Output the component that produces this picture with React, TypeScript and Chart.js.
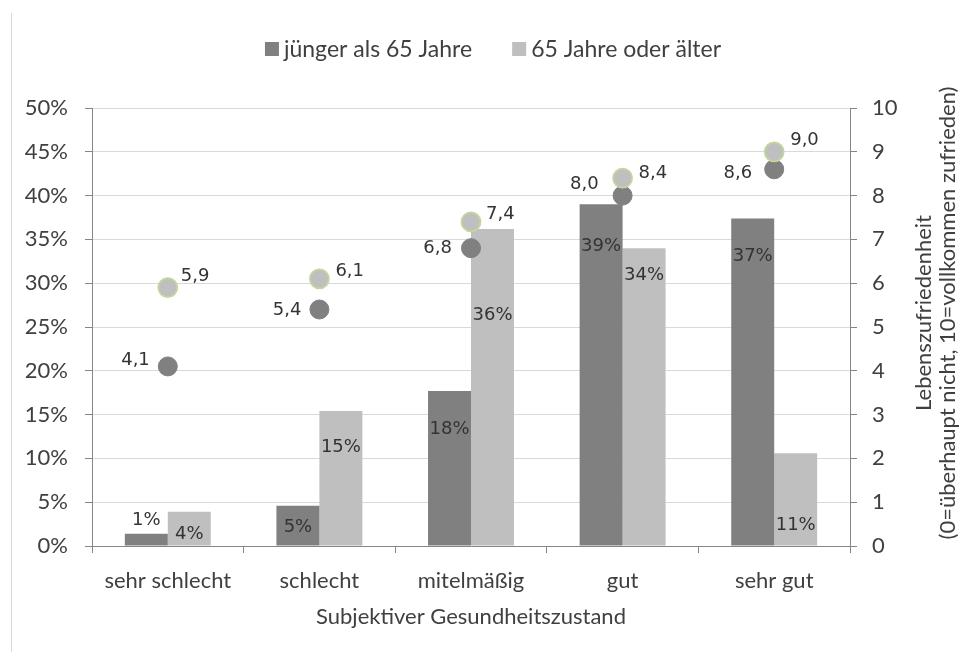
import React, { useEffect, useRef } from "react";
import { Chart, registerables } from "chart.js";

Chart.register(...registerables);

// ---- data ----
const categories = ["sehr schlecht", "schlecht", "mitelmäßig", "gut", "sehr gut"];
const seriesNames = ["jünger als 65 Jahre", "65 Jahre oder älter"];
const sharesYounger = [1.4, 4.6, 17.7, 39.0, 37.4];
const sharesOlder = [3.9, 15.4, 36.2, 34.0, 10.6];
const satisfactionYounger = [4.1, 5.4, 6.8, 8.0, 8.6];
const satisfactionOlder = [5.9, 6.1, 7.4, 8.4, 9.0];
const xTitle = "Subjektiver Gesundheitszustand";
const rightTitle = ["Lebenszufriedenheit", "(0=überhaupt nicht, 10=vollkommen zufrieden)"];

// ---- style ----
const DARK = "#808080";
const LIGHT = "#bfbfbf";
const TEXT = "#404040";
const AXIS = "#868686";
const GRID = "#d9d9d9";
const FONT = "Lato";
const LABEL_FONT = '18px "DejaVu Sans"';
// label nudges (pixels, relative to the mark)
const barLabelDy = [
  [-13, 22, 38, 42, 38],
  [22, 36, 86, 27, 72],
];
const dotLabelDx = [
  [-18, -18, -19, -24, -22],
  [13, 16, 15, 16, 16],
];
const dotLabelDy = [
  [-6, 1, 0, -11, 4],
  [-11, -7, -8, -5, -11],
];

const labelsPlugin = {
  id: "valueLabels",
  afterDatasetsDraw(chart: any) {
    const ctx = chart.ctx;
    ctx.save();
    ctx.font = LABEL_FONT;
    ctx.fillStyle = "#333333";
    ctx.textBaseline = "middle";
    [0, 1].forEach((di) => {
      const meta = chart.getDatasetMeta(di);
      meta.data.forEach((el: any, i: number) => {
        const v = chart.data.datasets[di].data[i] as number;
        ctx.textAlign = "center";
        ctx.fillText(Math.round(v) + "%", el.x, el.y + barLabelDy[di][i]);
      });
    });
    [2, 3].forEach((di, k) => {
      const meta = chart.getDatasetMeta(di);
      meta.data.forEach((el: any, i: number) => {
        const v = chart.data.datasets[di].data[i] as number;
        ctx.textAlign = k === 0 ? "right" : "left";
        ctx.fillText(v.toFixed(1).replace(".", ","), el.x + dotLabelDx[k][i], el.y + dotLabelDy[k][i]);
      });
    });
    ctx.restore();
  },
};

const decorPlugin = {
  id: "decor",
  afterDraw(chart: any) {
    const ctx = chart.ctx;
    const area = chart.chartArea;
    ctx.save();
    // left frame line
    ctx.strokeStyle = GRID;
    ctx.lineWidth = 1;
    ctx.beginPath();
    ctx.moveTo(11.5, 13);
    ctx.lineTo(11.5, chart.height);
    ctx.stroke();

    // legend
    ctx.font = `23px ${FONT}`;
    ctx.textBaseline = "middle";
    ctx.textAlign = "left";
    const box = 14;
    const gap = 5;
    const itemGap = 40;
    const w1 = ctx.measureText(seriesNames[0]).width;
    const w2 = ctx.measureText(seriesNames[1]).width;
    const total = box + gap + w1 + itemGap + box + gap + w2;
    let x = (area.left + area.right) / 2 - total / 2 + 22;
    const y = 50;
    const colors = [DARK, LIGHT];
    [w1, w2].forEach((w, i) => {
      ctx.fillStyle = colors[i];
      ctx.fillRect(x, y - box / 2 - 1, box, box);
      ctx.fillStyle = TEXT;
      ctx.fillText(seriesNames[i], x + box + gap, y);
      x += box + gap + w + itemGap;
    });

    // right axis title, rotated
    const cy = 313;
    ctx.font = `22px ${FONT}`;
    ctx.textAlign = "center";
    ctx.fillStyle = TEXT;
    rightTitle.forEach((line, i) => {
      ctx.save();
      ctx.translate(area.right + 74 + i * 24, cy);
      ctx.rotate(-Math.PI / 2);
      ctx.fillText(line, 0, 0);
      ctx.restore();
    });
    ctx.restore();
  },
};

export default function App() {
  const ref = useRef<HTMLCanvasElement | null>(null);
  useEffect(() => {
    if (!ref.current) return;
    const chart = new Chart(ref.current, {
      type: "bar",
      data: {
        labels: categories,
        datasets: [
          {
            type: "bar",
            label: seriesNames[0],
            data: sharesYounger,
            backgroundColor: DARK,
            yAxisID: "y",
            order: 10,
            categoryPercentage: 0.567,
            barPercentage: 1,
          },
          {
            type: "bar",
            label: seriesNames[1],
            data: sharesOlder,
            backgroundColor: LIGHT,
            yAxisID: "y",
            order: 11,
            categoryPercentage: 0.567,
            barPercentage: 1,
          },
          {
            type: "line",
            label: "Lebenszufriedenheit " + seriesNames[0],
            data: satisfactionYounger,
            showLine: false,
            yAxisID: "y1",
            order: 2,
            pointRadius: 9.5,
            pointHoverRadius: 9.5,
            pointBackgroundColor: DARK,
            pointBorderColor: DARK,
            pointBorderWidth: 1,
          },
          {
            type: "line",
            label: "Lebenszufriedenheit " + seriesNames[1],
            data: satisfactionOlder,
            showLine: false,
            yAxisID: "y1",
            order: 1,
            pointRadius: 9.5,
            pointHoverRadius: 9.5,
            pointBackgroundColor: LIGHT,
            pointBorderColor: "#c3d69b",
            pointBorderWidth: 1.8,
          },
        ] as any,
      },
      options: {
        animation: false,
        responsive: true,
        maintainAspectRatio: false,
        events: [],
        layout: { padding: { top: 108, left: 0, right: 0, bottom: 0 } },
        plugins: {
          legend: { display: false },
          tooltip: { enabled: false },
        },
        scales: {
          x: {
            type: "category",
            offset: true,
            grid: {
              offset: true,
              drawOnChartArea: false,
              tickLength: 7,
              tickColor: AXIS,
            },
            border: { color: AXIS },
            ticks: {
              color: TEXT,
              font: { family: FONT, size: 22 },
              padding: 15,
              maxRotation: 0,
              autoSkip: false,
            },
            title: {
              display: true,
              text: xTitle,
              color: TEXT,
              font: { family: FONT, size: 22 },
              padding: { top: 0, bottom: 22 },
            },
            afterFit: (s: any) => {
              s.height = 106;
            },
          },
          y: {
            position: "left",
            min: 0,
            max: 50,
            grid: { color: GRID, tickColor: AXIS, tickLength: 7 },
            border: { color: AXIS },
            ticks: {
              stepSize: 5,
              color: TEXT,
              font: { family: FONT, size: 22 },
              padding: 17,
              callback: (v: any) => v + "%",
            },
            afterFit: (s: any) => {
              s.width = 92;
            },
          },
          y1: {
            position: "right",
            min: 0,
            max: 10,
            grid: { drawOnChartArea: false, tickColor: AXIS, tickLength: 7 },
            border: { color: AXIS },
            ticks: {
              stepSize: 1,
              color: TEXT,
              font: { family: FONT, size: 22 },
              padding: 15,
            },
            afterFit: (s: any) => {
              s.width = 113;
            },
          },
        },
      } as any,
      plugins: [labelsPlugin, decorPlugin],
    });
    return () => chart.destroy();
  }, []);
  return (
    <div style={{ position: "absolute", left: 0, top: 0, width: 963, height: 652, background: "#fff" }}>
      <canvas ref={ref} />
    </div>
  );
}
